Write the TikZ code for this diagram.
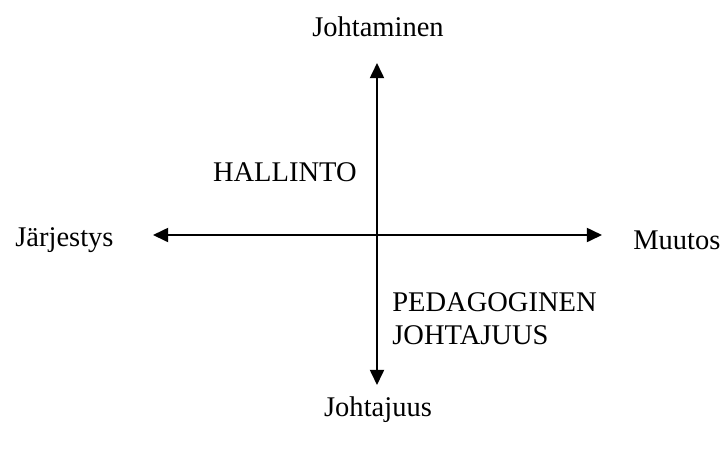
\documentclass[tikz,border=0pt]{standalone}
\usepackage{fontspec}
\setmainfont{Liberation Serif}
\usetikzlibrary{arrows.meta, positioning, calc}

\begin{document}
\begin{tikzpicture}[
    x=0.0185cm, y=-0.0185cm,
    font=\fontsize{15pt}{17.5pt}\selectfont,
    lbl/.style={
        inner sep=0pt,
        align=left
    },
    axis/.style={
        {Triangle[length=2.8mm, width=2.6mm]}-{Triangle[length=2.8mm, width=2.6mm]},
        line width=1pt
    }
]
\useasboundingbox (0,0) rectangle (727,452);

% =========================
% Akselit
% =========================
\coordinate (left)   at (153,235);
\coordinate (right)  at (602,235);
\coordinate (top)    at (377,63);
\coordinate (bottom) at (377,385);

\draw[axis] (left) -- (right);
\draw[axis] (top) -- (bottom);

% =========================
% Akselien nimet
% =========================
\node[lbl] (johtaminen) at (378,27) {Johtaminen};
\node[lbl] (johtajuus)  at (378,410) {Johtajuus};
\node[lbl, anchor=west] (jarjestys) at (15,240) {Järjestys};
\node[lbl, anchor=west] (muutos)    at (633,240) {Muutos};

% =========================
% Nelikentän tekstit
% =========================
\node[lbl, anchor=east] (hallinto) at (357,172) {HALLINTO};
\node[lbl, anchor=west] (pedagoginen) at (392,319)
    {PEDAGOGINEN\\JOHTAJUUS};

\end{tikzpicture}
\end{document}
